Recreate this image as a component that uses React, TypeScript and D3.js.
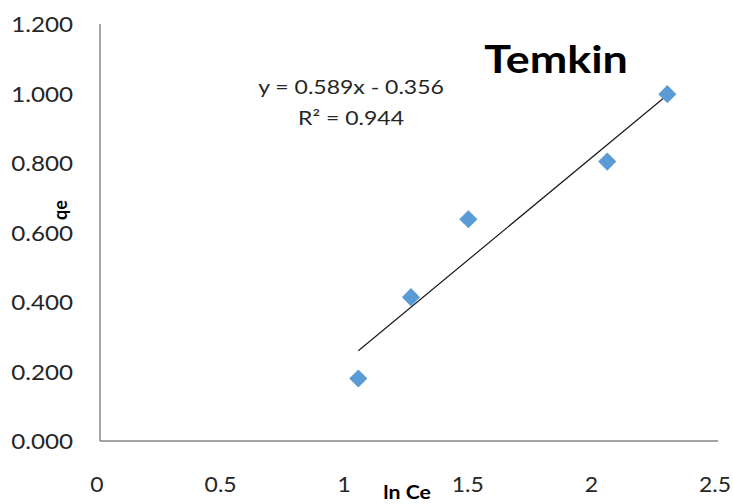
import { useEffect, useRef } from "react";
import * as d3 from "d3";

// ln Ce vs qe readings
const lnCe = [1.045, 1.258, 1.49, 2.052, 2.295];
const qe = [0.18, 0.414, 0.638, 0.804, 0.998];
const xTicks = [0, 0.5, 1, 1.5, 2, 2.5];
const yTicks = [0, 0.2, 0.4, 0.6, 0.8, 1.0, 1.2];
// linear trendline as printed on the chart
const trendSlope = 0.589;
const trendIntercept = -0.356;
const eqLines = ["y = 0.589x - 0.356", "R² = 0.944"];

const W = 733;
const H = 504;
const FONT = "Lato, 'Open Sans', sans-serif";
const SX = 1.18; // the original text is a bit wide, stretch it

const at = (px: number, py: number, sx = SX) => `translate(${px},${py}) scale(${sx},1)`;

export default function App() {
  const ref = useRef<SVGSVGElement | null>(null);

  useEffect(() => {
    if (!ref.current) return;
    const svg = d3.select(ref.current);
    svg.selectAll("*").remove();

    const x = d3.scaleLinear().domain([0, 2.5]).range([100, 718]);
    const y = d3.scaleLinear().domain([0, 1.2]).range([441, 24]);

    // axes lines
    svg.append("line")
      .attr("x1", x(0)).attr("x2", x(0))
      .attr("y1", y(1.2)).attr("y2", y(0))
      .attr("stroke", "#868686").attr("stroke-width", 1.5);
    svg.append("line")
      .attr("x1", x(0)).attr("x2", x(2.5))
      .attr("y1", y(0)).attr("y2", y(0))
      .attr("stroke", "#868686").attr("stroke-width", 1.5);

    // y tick labels
    svg.append("g")
      .selectAll("text")
      .data(yTicks)
      .join("text")
      .attr("transform", (d) => at(73, y(d) + 8))
      .attr("text-anchor", "end")
      .attr("font-family", FONT)
      .attr("font-size", 20.5)
      .attr("fill", "#262626")
      .text((d) => d.toFixed(3));

    // x tick labels
    svg.append("g")
      .selectAll("text")
      .data(xTicks)
      .join("text")
      .attr("transform", (d) => at(x(d) - 3, 492, 1.12))
      .attr("text-anchor", "middle")
      .attr("font-family", FONT)
      .attr("font-size", 20.5)
      .attr("fill", "#262626")
      .text((d) => String(d));

    // trendline
    const x0 = d3.min(lnCe) as number;
    const x1 = d3.max(lnCe) as number;
    svg.append("line")
      .attr("x1", x(x0)).attr("y1", y(trendSlope * x0 + trendIntercept))
      .attr("x2", x(x1)).attr("y2", y(trendSlope * x1 + trendIntercept))
      .attr("stroke", "#1a1a1a").attr("stroke-width", 1.2);

    // markers
    const diamond = d3.symbol().type(d3.symbolDiamond2).size(210);
    svg.append("g")
      .selectAll("path")
      .data(lnCe.map((v, i) => [v, qe[i]]))
      .join("path")
      .attr("d", diamond)
      .attr("transform", (d) => `translate(${x(d[0])},${y(d[1])})`)
      .attr("fill", "#5b9bd5");

    // equation
    svg.append("g")
      .selectAll("text")
      .data(eqLines)
      .join("text")
      .attr("transform", (_, i) => at(351, 94 + i * 31))
      .attr("text-anchor", "middle")
      .attr("font-family", FONT)
      .attr("font-size", 19.5)
      .attr("fill", "#262626")
      .text((d) => d);

    // title
    svg.append("text")
      .attr("transform", at(556, 73))
      .attr("text-anchor", "middle")
      .attr("font-family", FONT)
      .attr("font-weight", "bold")
      .attr("font-size", 38)
      .attr("fill", "#000")
      .text("Temkin");

    // axis titles
    svg.append("text")
      .attr("transform", "translate(67,210) rotate(-90)")
      .attr("text-anchor", "middle")
      .attr("font-family", FONT)
      .attr("font-weight", "bold")
      .attr("font-size", 18)
      .attr("fill", "#000")
      .text("qe");
    svg.append("text")
      .attr("transform", at(407, 499))
      .attr("text-anchor", "middle")
      .attr("font-family", FONT)
      .attr("font-weight", "bold")
      .attr("font-size", 18)
      .attr("fill", "#000")
      .text("ln Ce");
  }, []);

  return (
    <div style={{ position: "fixed", top: 0, left: 0, background: "#fff" }}>
      <svg ref={ref} width={W} height={H} style={{ display: "block" }} />
    </div>
  );
}
